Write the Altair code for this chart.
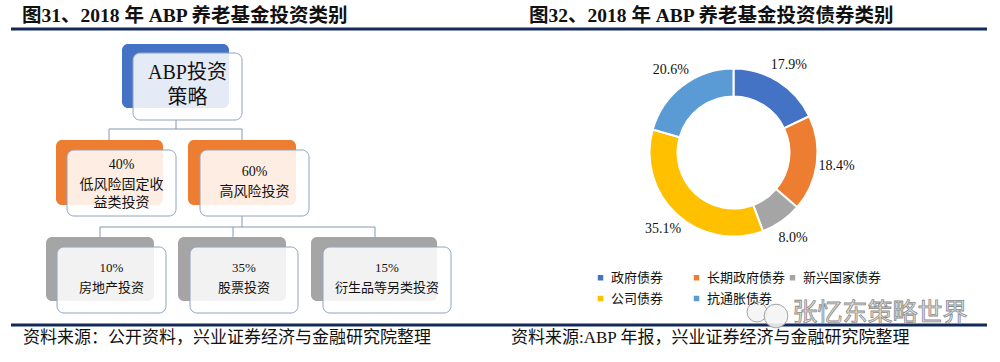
import altair as alt
import pandas as pd

# ---------------- data ----------------
title_left = "图31、2018 年 ABP 养老基金投资类别"
title_right = "图32、2018 年 ABP 养老基金投资债券类别"
source_left = "资料来源：公开资料，兴业证券经济与金融研究院整理"
source_right = "资料来源:ABP 年报，兴业证券经济与金融研究院整理"
watermark = "张忆东策略世界"

# donut (right panel)
bond_categories = ["政府债券", "长期政府债券", "新兴国家债券", "公司债券", "抗通胀债券"]
bond_shares = [17.9, 18.4, 8.0, 35.1, 20.6]
bond_colors = ["#4472C4", "#ED7D31", "#A5A5A5", "#FFC000", "#5B9BD5"]

# tree (left panel)
root_lines = ["ABP投资", "策略"]
level1_pcts = ["40%", "60%"]
level1_names = [["低风险固定收", "益类投资"], ["高风险投资"]]
level2_pcts = ["10%", "35%", "15%"]
level2_names = ["房地产投资", "股票投资", "衍生品等另类投资"]

# ---------------- layout (pixels) ----------------
FONT = "Liberation Serif, Noto Sans CJK SC"
NAVY = "#13295A"
LINE = "#8497B0"
BORDER = "#8FA2C4"

back_boxes = pd.DataFrame([
    dict(x=122, x2=229, y=44, y2=108, c="#4472C4"),
    dict(x=56, x2=163, y=140, y2=205, c="#ED7D31"),
    dict(x=188, x2=296, y=140, y2=205, c="#ED7D31"),
    dict(x=46, x2=154, y=237, y2=301, c="#A5A5A5"),
    dict(x=178, x2=286, y=237, y2=301, c="#A5A5A5"),
    dict(x=311, x2=437, y=237, y2=301, c="#A5A5A5"),
])
front_boxes = pd.DataFrame([
    dict(x=133, x2=242, y=53, y2=120),
    dict(x=67, x2=176, y=150, y2=216),
    dict(x=200, x2=309, y=150, y2=216),
    dict(x=57, x2=166, y=247, y2=313),
    dict(x=190, x2=298, y=247, y2=313),
    dict(x=323, x2=451, y=247, y2=313),
])
connectors = pd.DataFrame([
    dict(x=176, x2=176, y=120, y2=129),
    dict(x=109, x2=242, y=129, y2=129),
    dict(x=109, x2=109, y=129, y2=140),
    dict(x=242, x2=242, y=129, y2=140),
    dict(x=242, x2=242, y=216, y2=227),
    dict(x=100, x2=375, y=227, y2=227),
    dict(x=100, x2=100, y=227, y2=237),
    dict(x=233, x2=233, y=227, y2=237),
    dict(x=375, x2=375, y=227, y2=237),
])

tree_text_rows = []
root_y = [73, 98]
for line, yy in zip(root_lines, root_y):
    tree_text_rows.append(dict(t=line, x=187.5, y=yy, s=20))
l1_x = [121.5, 254.5]
l1_y = [[165, 185, 203], [172, 192]]
for i in range(2):
    lines = [level1_pcts[i]] + level1_names[i]
    for line, yy in zip(lines, l1_y[i]):
        tree_text_rows.append(dict(t=line, x=l1_x[i], y=yy, s=14))
l2_x = [111.5, 244, 387]
for i in range(3):
    tree_text_rows.append(dict(t=level2_pcts[i], x=l2_x[i], y=268, s=13))
    tree_text_rows.append(dict(t=level2_names[i], x=l2_x[i], y=288, s=13))
tree_text = pd.DataFrame(tree_text_rows)

frame_lines = pd.DataFrame([
    dict(x=11, x2=987, y=29, y2=29),
    dict(x=11, x2=987, y=325, y2=325),
])
headers = pd.DataFrame([
    dict(t=title_left, x=22, y=16),
    dict(t=title_right, x=529, y=16),
])
sources = pd.DataFrame([
    dict(t=source_left, x=23, y=338),
    dict(t=source_right, x=511, y=338),
])
wm_icon = pd.DataFrame([
    dict(x=757, y=312, s=400),
    dict(x=776, y=316, s=560),
])

pie = pd.DataFrame({
    "category": bond_categories,
    "share": bond_shares,
    "label": [f"{v:.1f}%" for v in bond_shares],
    "idx": list(range(len(bond_categories))),
})

CX, CY = 733.5, 152.5

X = alt.X("x:Q", scale=None, axis=None)
X2 = alt.X2("x2:Q")
Y = alt.Y("y:Q", scale=None, axis=None)
Y2 = alt.Y2("y2:Q")

rules = alt.Chart(connectors).mark_rule(color=LINE, strokeWidth=1).encode(x=X, x2=X2, y=Y, y2=Y2)
backs = alt.Chart(back_boxes).mark_rect(cornerRadius=6).encode(
    x=X, x2=X2, y=Y, y2=Y2, fill=alt.Fill("c:N", scale=None))
fronts = alt.Chart(front_boxes).mark_rect(
    cornerRadius=7, fill="white", fillOpacity=0.86, stroke=BORDER, strokeWidth=1
).encode(x=X, x2=X2, y=Y, y2=Y2)
ttext = alt.Chart(tree_text).mark_text(font=FONT, color="#111111", align="center", baseline="middle").encode(
    x=X, y=Y, text="t:N", size=alt.Size("s:Q", scale=None))

frames = alt.Chart(frame_lines).mark_rule(color=NAVY, strokeWidth=3).encode(x=X, x2=X2, y=Y, y2=Y2)
head = alt.Chart(headers).mark_text(font=FONT, fontSize=19.5, fontWeight="bold", color="#111111",
                                    align="left", baseline="middle").encode(x=X, y=Y, text="t:N")
src = alt.Chart(sources).mark_text(font=FONT, fontSize=17, color="#111111",
                                   align="left", baseline="middle").encode(x=X, y=Y, text="t:N")

theta = alt.Theta("share:Q", stack=True)
order = alt.Order("idx:Q")
arcs = alt.Chart(pie).mark_arc(innerRadius=56, outerRadius=84, stroke="white", strokeWidth=2).encode(
    theta=theta, order=order,
    x=alt.value(CX), y=alt.value(CY),
    color=alt.Color("category:N", sort=bond_categories,
                    scale=alt.Scale(domain=bond_categories, range=bond_colors),
                    legend=alt.Legend(title=None, orient="none", legendX=594, legendY=271,
                                      direction="horizontal", columns=3, gridAlign="all",
                                      columnPadding=-3, rowPadding=7,
                                      symbolType="square", symbolSize=30, symbolStrokeWidth=0,
                                      labelFont=FONT, labelFontSize=13, labelColor="#111111",
                                      labelOffset=4, padding=0)),
)
labels = alt.Chart(pie).mark_text(radius=104, font=FONT, fontSize=14, color="#111111").encode(
    theta=theta, order=order, x=alt.value(CX), y=alt.value(CY), text="label:N")

icon = alt.Chart(wm_icon).mark_point(shape="circle", filled=True, fill="#F4F4F4", stroke="#9A9A9A",
                                     strokeWidth=1, opacity=0.9).encode(
    x=X, y=Y, size=alt.Size("s:Q", scale=None))
wm = alt.Chart(pd.DataFrame([dict(t=watermark, x=880, y=313)])).mark_text(
    font="Noto Sans CJK SC", fontSize=25, fill="#E6E6E6", stroke="#8A8A8A", strokeWidth=0.8,
    align="center", baseline="middle").encode(x=X, y=Y, text="t:N")

chart = alt.layer(rules, backs, fronts, ttext, frames, head, src, arcs, labels, icon, wm).properties(
    width=1000, height=362, padding=0, autosize=alt.AutoSizeParams(type="none"),
    background="white"
).configure_view(stroke=None)

chart.save("out.html", embed_options={"renderer": "svg", "actions": False})
